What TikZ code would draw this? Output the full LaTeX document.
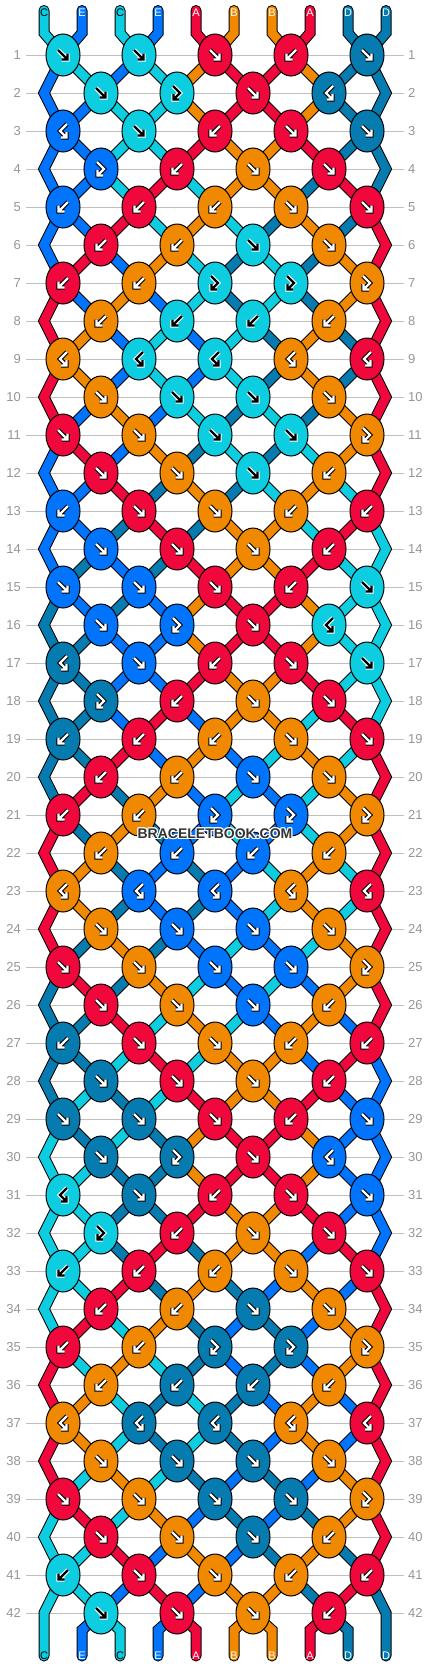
\documentclass[tikz,border=0pt]{standalone}
\usepackage{fontspec}
\setmainfont{Liberation Sans}
\usetikzlibrary{shapes.geometric}
\definecolor{cC}{RGB}{13,206,224}
\definecolor{cE}{RGB}{0,116,252}
\definecolor{cA}{RGB}{240,8,60}
\definecolor{cB}{RGB}{240,136,0}
\definecolor{cD}{RGB}{6,123,175}
\definecolor{gridgray}{RGB}{192,192,192}
\definecolor{labgray}{RGB}{150,150,150}
\definecolor{wmgray}{RGB}{51,51,51}
\colorlet{ifg}{white}\colorlet{ibg}{black}
\pgfdeclarelayer{bg}\pgfdeclarelayer{grid}\pgfdeclarelayer{thr}\pgfdeclarelayer{top}
\pgfsetlayers{bg,grid,thr,main,top}
\newcommand\setphase[1]{\ifcase#1 \colorlet{pC}{cC}\colorlet{pE}{cE}\colorlet{pD}{cD}\def\cyL{C}\or
\colorlet{pC}{cE}\colorlet{pE}{cD}\colorlet{pD}{cC}\def\cyL{D}\or
\colorlet{pC}{cD}\colorlet{pE}{cC}\colorlet{pD}{cE}\def\cyL{E}\or
\colorlet{pC}{cC}\colorlet{pE}{cE}\colorlet{pD}{cD}\def\cyL{C}\fi
\colorlet{pA}{cA}\colorlet{pB}{cB}}
\newcommand\knotdata[1]{\ifcase#1\or
C/F,C/F,A/F,A/B,D/F\or
C/F,C/FB,A/F,D/BF\or
E/BF,C/F,A/B,A/F,D/F\or
E/FB,A/B,B/F,A/F\or
E/B,A/B,B/B,B/F,A/F\or
A/B,B/B,C/F,B/F\or
A/B,B/B,C/FB,C/FB,B/FB\or
B/B,C/B,C/B,B/B\or
B/BF,C/BF,C/BF,B/BF,A/BF\or
B/F,C/F,C/F,B/F\or
A/F,B/F,C/F,C/F,B/FB\or
A/F,B/F,C/F,B/B\or
E/B,A/F,B/F,B/B,A/B\or
E/F,A/F,B/F,A/B\fi}
\newcommand\stateof[1]{\ifcase#1 C,E,C,E,A,B,B,A,D,D\or
E,C,E,C,B,A,A,B,D,D\or
E,E,C,C,B,A,A,B,D,D\or
E,E,C,C,A,B,B,A,D,D\or
E,E,C,A,C,B,B,D,A,D\or
E,E,A,C,B,C,D,B,D,A\or
E,A,E,B,C,D,C,D,B,A\or
A,E,B,E,C,D,C,D,B,A\or
A,B,E,C,E,C,D,B,D,A\or
A,B,E,C,E,C,D,B,D,A\or
A,E,B,E,C,D,C,D,B,A\or
E,A,E,B,D,C,D,C,B,A\or
E,E,A,D,B,D,C,B,C,A\or
E,E,D,A,D,B,B,C,A,C\fi}
\newcommand\ico[2]{\begin{scope}[shift={(#1)}]\draw[icb]#2;\draw[icf]#2;\end{scope}}
\newcommand\icF[1]{\ico{#1}{(-5,-5)--(4.5,4.5) (4.5,-1.5)--(4.5,4.5)--(-1.5,4.5)}}
\newcommand\icB[1]{\ico{#1}{(5,-5)--(-4.5,4.5) (-4.5,-1.5)--(-4.5,4.5)--(1.5,4.5)}}
\newcommand\icFB[1]{\ico{#1}{(-4,-7)--(3,0)--(-3.5,6.5) (-3.5,1)--(-3.5,6.5)--(2,6.5)}}
\newcommand\icBF[1]{\ico{#1}{(4,-7)--(-3,0)--(3.5,6.5) (3.5,1)--(3.5,6.5)--(-2,6.5)}}
\begin{document}
\begin{tikzpicture}[x=1pt,y=-1pt,
  knot/.style={ellipse,draw=black,line width=1pt,minimum width=34pt,minimum height=42pt,inner sep=0pt},
  thread/.style={draw=black,line width=1pt,double=#1,double distance=9pt,line cap=round,line join=miter},
  gridline/.style={draw=gridgray,line width=1pt},
  rowlbl/.style={text=labgray,font=\fontsize{13}{13}\selectfont,inner sep=0pt},
  strlbl/.style={font=\fontsize{11}{11}\selectfont,inner sep=0pt},
  icb/.style={draw=ibg,line width=4.4pt,line cap=square,line join=miter},
  icf/.style={draw=ifg,line width=2.2pt,line cap=square,line join=miter},
  wm/.style={font=\fontsize{14}{14}\selectfont\bfseries,inner sep=0pt}]
\begin{pgfonlayer}{bg}
\fill[white] (0,0) rectangle (430,1668);
\end{pgfonlayer}
\useasboundingbox (0,0) rectangle (430,1668);
\setphase{0}
% string labels top and bottom
\foreach \lt [count=\ix] in {C,E,C,E,A,B,B,A,D,D}{%
  \pgfmathsetmacro\xx{44+38*(\ix-1)}%
  \edef\kcc{\lt}%
  \ifx\kcc\cyL\def\tc{black}\else\def\tc{white}\fi
  \node[strlbl,text=\tc] (t-\ix) at (\xx,13) {\lt};
  \node[strlbl,text=\tc] (b-\ix) at (\xx,1656) {\lt};
  \coordinate (tb-\ix) at (\xx,33);
  \coordinate (bb-\ix) at (\xx,1630);
}
% knots, row labels, grid lines
\foreach \rw in {1,...,42}{%
  \pgfmathtruncatemacro\bs{mod(\rw-1,14)+1}%
  \pgfmathtruncatemacro\ph{div(\rw-1,14)}%
  \pgfmathtruncatemacro\od{mod(\rw,2)}%
  \pgfmathsetmacro\yy{55+38*(\rw-1)}%
  \setphase{\ph}%
  \node[rowlbl,anchor=east] (lL-\rw) at (21,\yy) {\rw};
  \node[rowlbl,anchor=west] (lR-\rw) at (408,\yy) {\rw};
  \begin{pgfonlayer}{grid}
  \draw[gridline,shorten <=5pt,shorten >=4pt] (lL-\rw) -- (lR-\rw);
  \end{pgfonlayer}
  \ifnum\od=0 \coordinate (eL-\rw) at (44,\yy); \coordinate (eR-\rw) at (386,\yy); \fi
  \edef\klist{\knotdata{\bs}}%
  \foreach \kc/\kt [count=\jx] in \klist {%
    \pgfmathsetmacro\xx{(\od==1?63:101)+76*(\jx-1)}%
    \node[knot,fill=p\kc] (k-\rw-\jx) at (\xx,\yy) {};
    \edef\kcc{\kc}%
    \ifx\kcc\cyL \colorlet{ifg}{black}\colorlet{ibg}{white}\else\colorlet{ifg}{white}\colorlet{ibg}{black}\fi
    \csname ic\kt\endcsname{k-\rw-\jx}%
  }%
}
% threads
\begin{pgfonlayer}{thr}
\setphase{0}
\foreach \lt [count=\ix] in {C,E,C,E,A,B,B,A,D,D}{%
  \pgfmathtruncatemacro\jx{div(\ix+1,2)}%
  \draw[thread=p\lt] ([yshift=2.5pt]t-\ix.center) -- (tb-\ix) -- (k-1-\jx.center);
}
\foreach \lt [count=\ix] in {C,E,C,E,A,B,B,A,D,D}{%
  \ifnum\ix>1 \ifnum\ix<10
  \pgfmathtruncatemacro\jb{div(\ix,2)}%
  \draw[thread=p\lt] (k-42-\jb.center) -- (bb-\ix) -- (b-\ix.center);
  \fi\fi
}
\foreach \rw in {1,...,41}{%
  \pgfmathtruncatemacro\ss{mod(\rw,14)}%
  \pgfmathtruncatemacro\ph{div(\rw,14)}%
  \pgfmathtruncatemacro\od{mod(\rw,2)}%
  \pgfmathtruncatemacro\rn{\rw+1}%
  \pgfmathtruncatemacro\rnn{\rw+2}%
  \setphase{\ph}%
  \edef\slist{\stateof{\ss}}%
  \foreach \lt [count=\ix] in \slist {%
    \ifnum\ix>1 \ifnum\ix<10
      \ifnum\od=1
        \pgfmathtruncatemacro\ja{div(\ix+1,2)}\pgfmathtruncatemacro\jb{div(\ix,2)}%
      \else
        \pgfmathtruncatemacro\ja{div(\ix,2)}\pgfmathtruncatemacro\jb{div(\ix+1,2)}%
      \fi
      \draw[thread=p\lt] (k-\rw-\ja.center) -- (k-\rn-\jb.center);
    \fi\fi
    \ifnum\od=1
      \ifnum\ix=1
        \ifnum\rw=41 \draw[thread=p\lt] (k-\rw-1.center) -- (eL-\rn) -- (b-1.center);
        \else \draw[thread=p\lt] (k-\rw-1.center) -- (eL-\rn) -- (k-\rnn-1.center); \fi
      \fi
      \ifnum\ix=10
        \ifnum\rw=41 \draw[thread=p\lt] (k-\rw-5.center) -- (eR-\rn) -- (b-10.center);
        \else \draw[thread=p\lt] (k-\rw-5.center) -- (eR-\rn) -- (k-\rnn-5.center); \fi
      \fi
    \fi
  }%
}
\end{pgfonlayer}
% watermark
\begin{pgfonlayer}{top}
\foreach \dx/\dy [count=\n] in {-1/0,1/0,0/-1,0/1,-1/-1,1/1,-1/1,1/-1}{%
  \node[wm,text=white] (wmh-\n) at (215+\dx,834+\dy) {BRACELETBOOK.COM};
}
\node[wm,text=wmgray] (wm) at (215,834) {BRACELETBOOK.COM};
\end{pgfonlayer}
\end{tikzpicture}
\end{document}
